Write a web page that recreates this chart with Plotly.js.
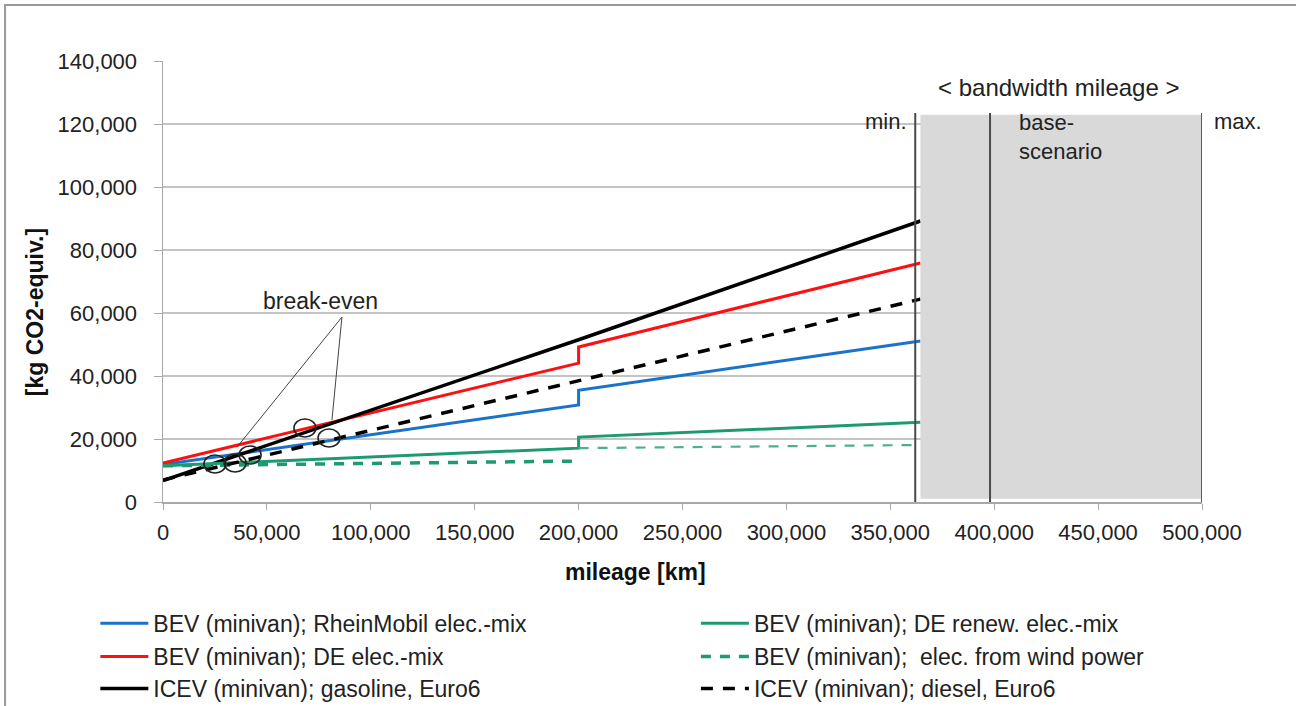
<!DOCTYPE html>
<html>
<head>
<meta charset="utf-8">
<script src="https://cdn.plot.ly/plotly-3.0.1.min.js"></script>
<style>
  html, body { margin: 0; padding: 0; background: #ffffff; }
  #chart { width: 1296px; height: 706px; }
</style>
</head>
<body>
<div id="chart"></div>
<script>
// Life-cycle greenhouse gas emissions of minivans over mileage [km]
// Each series: mileage points and cumulative kg CO2-equiv. (battery replacement step at 200,000 km)

const rheinMobilKm  = [0, 200000, 200000, 364500];
const rheinMobilCO2 = [11900, 30800, 35500, 51100];

const deMixKm  = [0, 200000, 200000, 364500];
const deMixCO2 = [12400, 44100, 49200, 75900];

const gasolineKm  = [0, 200000, 364500];
const gasolineCO2 = [6800, 51500, 89200];

const renewKm  = [0, 200000, 200000, 364500];
const renewCO2 = [11500, 17100, 20600, 25300];

const windKmA  = [0, 200000];
const windCO2A = [11500, 13000];
const windKmB  = [200000, 364500];
const windCO2B = [17100, 18100];

const dieselKm  = [0, 364500];
const dieselCO2 = [7000, 64400];

// break-even points
const breakEvenKm  = [25000, 34700, 41900, 68300, 79900];
const breakEvenCO2 = [12060, 12380, 14900, 23500, 20300];

// mileage bandwidth
const bandMinKm  = 362000;
const bandBaseKm = 398000;
const bandMaxKm  = 500000;
const bandTopCO2 = 123500;

const xTicks = [0, 50000, 100000, 150000, 200000, 250000, 300000, 350000, 400000, 450000, 500000];
const yTicks = [0, 20000, 40000, 60000, 80000, 100000, 120000, 140000];

const FONT = 'Liberation Sans, Arial, sans-serif';
const FS = 22;
const BLUE = '#1a72c9';
const RED = '#ff1010';
const GREEN = '#1e9a70';

const traces = [
  { x: rheinMobilKm, y: rheinMobilCO2, name: 'BEV (minivan); RheinMobil elec.-mix',
    mode: 'lines', line: { color: BLUE, width: 3 }, legend: 'legend', showlegend: true },
  { x: deMixKm, y: deMixCO2, name: 'BEV (minivan); DE elec.-mix',
    mode: 'lines', line: { color: RED, width: 3 }, legend: 'legend2' },
  { x: gasolineKm, y: gasolineCO2, name: 'ICEV (minivan); gasoline, Euro6',
    mode: 'lines', line: { color: '#000000', width: 3.5 }, legend: 'legend3' },
  { x: renewKm, y: renewCO2, name: 'BEV (minivan); DE renew. elec.-mix',
    mode: 'lines', line: { color: GREEN, width: 3 }, legend: 'legend4' },
  { x: windKmA, y: windCO2A, name: 'BEV (minivan);  elec. from wind power',
    mode: 'lines', line: { color: GREEN, width: 3.5, dash: '10px,9px' }, legend: 'legend5', legendgroup: 'wind' },
  { x: windKmB, y: windCO2B, name: 'BEV (minivan);  elec. from wind power', showlegend: false,
    mode: 'lines', line: { color: '#4fb08d', width: 2.2, dash: '10px,9px' }, legend: 'legend5', legendgroup: 'wind' },
  { x: dieselKm, y: dieselCO2, name: 'ICEV (minivan); diesel, Euro6',
    mode: 'lines', line: { color: '#000000', width: 3.5, dash: '12px,10px' }, legend: 'legend6' }
];

// open ellipses marking the break-even points
const shapes = [];
breakEvenKm.forEach((km, i) => {
  shapes.push({
    type: 'circle', xref: 'x', yref: 'y',
    xsizemode: 'pixel', ysizemode: 'pixel',
    xanchor: km, yanchor: breakEvenCO2[i],
    x0: -11, x1: 11, y0: -9, y1: 9,
    line: { color: '#222222', width: 1.6 }, fillcolor: 'rgba(0,0,0,0)', layer: 'above'
  });
});

// leader lines from the "break-even" label
shapes.push(
  { type: 'line', xref: 'x', yref: 'y', x0: 86100, y0: 58700, x1: 35600, y1: 17400,
    line: { color: '#444444', width: 1 } },
  { type: 'line', xref: 'x', yref: 'y', x0: 86100, y0: 58700, x1: 81300, y1: 26000,
    line: { color: '#444444', width: 1 } }
);

// mileage bandwidth box and its markers
shapes.push(
  { type: 'rect', xref: 'x', yref: 'y', x0: 364500, x1: bandMaxKm, y0: 1000, y1: 122900,
    fillcolor: '#d9d9d9', line: { width: 0 }, layer: 'above' },
  { type: 'line', xref: 'x', yref: 'y', x0: bandMinKm, x1: bandMinKm, y0: 0, y1: bandTopCO2,
    line: { color: '#4a4a4a', width: 2 }, layer: 'above' },
  { type: 'line', xref: 'x', yref: 'y', x0: bandBaseKm, x1: bandBaseKm, y0: 0, y1: bandTopCO2,
    line: { color: '#4a4a4a', width: 2 }, layer: 'above' },
  { type: 'line', xref: 'x', yref: 'y', x0: bandMaxKm, x1: bandMaxKm, y0: 0, y1: bandTopCO2,
    line: { color: '#5a5a5a', width: 2 }, layer: 'above' }
);

// outer frame
shapes.push({
  type: 'rect', xref: 'paper', yref: 'paper',
  x0: -0.152, x1: 1.2, y0: -0.6, y1: 1.127,
  line: { color: '#9a9a9a', width: 2 }, fillcolor: 'rgba(0,0,0,0)'
});

const txt = (t, x, y, size, opts) => Object.assign({
  text: t, x: x, y: y, xref: 'x', yref: 'y', showarrow: false,
  font: { family: FONT, size: size, color: '#222222' }
}, opts || {});

const annotations = [
  txt('break-even', 76000, 63800, 23),
  txt('&lt; bandwidth mileage &gt;', 431000, 131500, 24),
  txt('min.', bandMinKm - 3000, 120700, FS, { xanchor: 'right' }),
  txt('base-<br>scenario', 411000, 115800, FS, { xanchor: 'left', align: 'left', yanchor: 'middle' }),
  { text: 'max.', xref: 'paper', yref: 'y', x: 1.01, y: 120700, xanchor: 'left', showarrow: false,
    font: { family: FONT, size: FS, color: '#222222' } },
  { text: '[kg CO2-equiv.]', xref: 'paper', yref: 'paper', x: -0.123, y: 0.431,
    xanchor: 'center', yanchor: 'middle',
    textangle: -90, showarrow: false, font: { family: FONT, size: 23, color: '#111111', weight: 'bold' } },
  { text: 'mileage [km]', xref: 'paper', yref: 'paper', x: 0.455, y: -0.159,
    xanchor: 'center', yanchor: 'middle',
    showarrow: false, font: { family: FONT, size: 23, color: '#111111', weight: 'bold' } }
];

// one legend box per entry, two columns of three rows
const LEG_FS = 23;
const legendBox = (x, y) => ({
  orientation: 'v', bgcolor: 'rgba(0,0,0,0)', borderwidth: 0,
  font: { family: FONT, size: LEG_FS, color: '#222222' },
  itemwidth: 48, yanchor: 'top', xanchor: 'left', x: x, y: y
});
const colLeft = -0.0651, colRight = 0.5129;
const rowY = [-0.2265, -0.3016, -0.3742];

const layout = {
  width: 1296, height: 706,
  showlegend: true,
  margin: { l: 163, r: 94, t: 61, b: 204, autoexpand: false },
  paper_bgcolor: '#ffffff', plot_bgcolor: '#ffffff',
  font: { family: FONT, size: FS, color: '#222222' },
  xaxis: {
    range: [0, 500000], tickvals: xTicks, tickformat: ',d',
    showgrid: false, zeroline: false, automargin: false,
    showline: true, linecolor: '#a8a8a8', linewidth: 1.5,
    ticks: 'outside', ticklen: 6, tickcolor: '#a8a8a8', ticklabelstandoff: 4,
    tickfont: { family: FONT, size: FS, color: '#222222' }
  },
  yaxis: {
    range: [0, 140000], tickvals: yTicks, tickformat: ',d',
    showgrid: true, gridcolor: '#c4c4c4', gridwidth: 1.5, zeroline: false, automargin: false,
    showline: true, linecolor: '#a8a8a8', linewidth: 1.5,
    ticks: 'outside', ticklen: 8, tickcolor: '#a8a8a8', ticklabelstandoff: 12,
    tickfont: { family: FONT, size: FS, color: '#222222' }
  },
  legend:  legendBox(colLeft, rowY[0]),
  legend2: legendBox(colLeft, rowY[1]),
  legend3: legendBox(colLeft, rowY[2]),
  legend4: legendBox(colRight, rowY[0]),
  legend5: legendBox(colRight, rowY[1]),
  legend6: legendBox(colRight, rowY[2]),
  shapes: shapes,
  annotations: annotations
};

Plotly.newPlot('chart', traces, layout, { displayModeBar: false, staticPlot: true });
</script>
</body>
</html>
